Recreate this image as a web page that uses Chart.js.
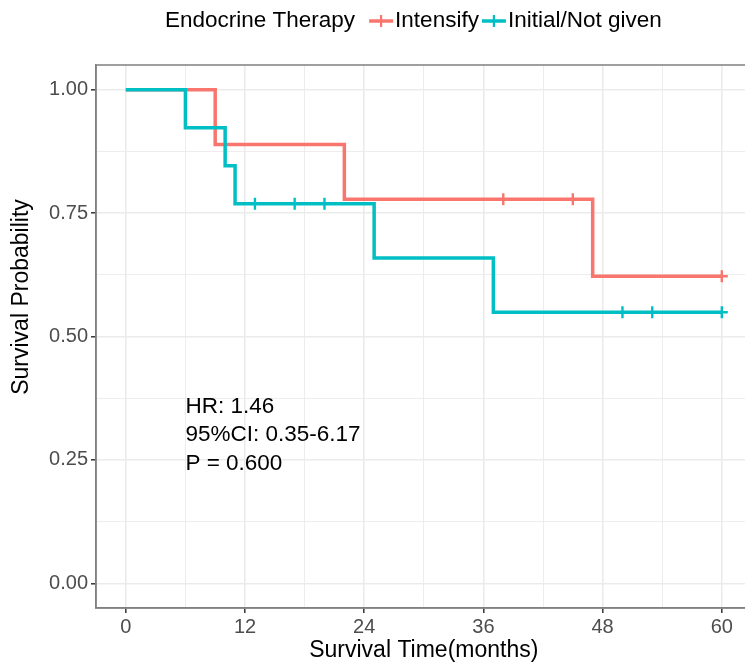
<!DOCTYPE html>
<html>
<head>
<meta charset="utf-8">
<script src="https://cdn.jsdelivr.net/npm/chart.js@4.4.1/dist/chart.umd.min.js"></script>
<style>
html, body { margin: 0; padding: 0; background: #ffffff; overflow: hidden; }
#wrap { position: relative; width: 760px; height: 664px; }
</style>
</head>
<body>
<div id="wrap"><canvas id="c" width="760" height="664"></canvas></div>
<script>
// ---- data ----
const intensifyTimes = [0, 9, 22, 47, 60];
const intensifySurv  = [1.0, 0.889, 0.778, 0.622, 0.622];
const intensifyCensorTimes = [38, 45, 60];
const intensifyCensorSurv  = [0.778, 0.778, 0.622];

const initialTimes = [0, 6, 10, 11, 25, 37, 60];
const initialSurv  = [1.0, 0.923, 0.846, 0.769, 0.659, 0.549, 0.549];
const initialCensorTimes = [13, 17, 20, 50, 53, 60];
const initialCensorSurv  = [0.769, 0.769, 0.769, 0.549, 0.549, 0.549];

const seriesNames = ['Intensify', 'Initial/Not given'];
const legendTitle = 'Endocrine Therapy';
const xTickValues = [0, 6, 12, 18, 24, 30, 36, 42, 48, 54, 60];
const xMajorTicks = [0, 12, 24, 36, 48, 60];
const yTickValues = [0, 0.125, 0.25, 0.375, 0.5, 0.625, 0.75, 0.875, 1.0];
const yMajorTicks = [0, 0.25, 0.5, 0.75, 1.0];
const annotationLines = ['HR: 1.46', '95%CI: 0.35-6.17', 'P = 0.600'];
const yTitle = 'Survival Probability';
const xTitle = 'Survival Time(months)';

const RED = '#F8766D';
const TEAL = '#00BFC4';
const FONT = '"Liberation Sans", Arial, Helvetica, sans-serif';

function pts(xs, ys) { return xs.map((x, i) => ({ x: x, y: ys[i] })); }
function isMajor(list, v) { return list.some(m => Math.abs(m - v) < 1e-6); }

const panelPlugin = {
  id: 'panel',
  afterDraw(chart) {
    const ctx = chart.ctx;
    const a = chart.chartArea;
    ctx.save();
    ctx.strokeStyle = '#808080';
    ctx.lineWidth = 1.5;
    ctx.strokeRect(a.left, a.top, a.right - a.left, a.bottom - a.top);
    // annotation text
    const xs = chart.scales.x, ys = chart.scales.y;
    ctx.fillStyle = '#000000';
    ctx.font = '22.5px ' + FONT;
    ctx.textAlign = 'left';
    ctx.textBaseline = 'middle';
    const ax = xs.getPixelForValue(6);
    const ay = [0.357, 0.300, 0.243];
    annotationLines.forEach((t, i) => ctx.fillText(t, ax, ys.getPixelForValue(ay[i])));
    // y axis title
    ctx.save();
    ctx.font = '23px ' + FONT;
    ctx.textAlign = 'center';
    ctx.translate(22, 297);
    ctx.rotate(-Math.PI / 2);
    ctx.fillText(yTitle, 0, 0);
    ctx.restore();
    // legend
    ctx.font = '22.5px ' + FONT;
    ctx.textAlign = 'left';
    ctx.fillStyle = '#000000';
    let x = 165;
    const cy = 21;
    ctx.fillText(legendTitle, x, cy);
    x += ctx.measureText(legendTitle).width + 14;
    const colors = [RED, TEAL];
    seriesNames.forEach((name, i) => {
      ctx.strokeStyle = colors[i];
      ctx.lineWidth = 3.5;
      ctx.beginPath();
      ctx.moveTo(x, cy); ctx.lineTo(x + 24, cy);
      ctx.stroke();
      ctx.lineWidth = 2.2;
      ctx.beginPath();
      ctx.moveTo(x + 12, cy - 6); ctx.lineTo(x + 12, cy + 6);
      ctx.stroke();
      x += 26;
      ctx.fillStyle = '#000000';
      ctx.fillText(name, x, cy);
      x += ctx.measureText(name).width + 3;
    });
    ctx.restore();
  }
};

new Chart(document.getElementById('c'), {
  type: 'scatter',
  data: {
    datasets: [
      { label: seriesNames[1], data: pts(initialTimes, initialSurv), showLine: true, stepped: true,
        borderColor: TEAL, borderWidth: 3.5, pointRadius: 0, order: 1 },
      { label: seriesNames[1] + ' censored', data: pts(initialCensorTimes, initialCensorSurv), showLine: false,
        pointStyle: 'cross', pointRadius: 6, borderColor: TEAL, borderWidth: 2.4, order: 0 },
      { label: seriesNames[0], data: pts(intensifyTimes, intensifySurv), showLine: true, stepped: true,
        borderColor: RED, borderWidth: 3.5, pointRadius: 0, order: 3 },
      { label: seriesNames[0] + ' censored', data: pts(intensifyCensorTimes, intensifyCensorSurv), showLine: false,
        pointStyle: 'cross', pointRadius: 6, borderColor: RED, borderWidth: 2.4, order: 2 }
    ]
  },
  options: {
    responsive: false,
    animation: false,
    layout: { padding: { top: 65, right: 8, left: 0, bottom: 0 } },
    plugins: { legend: { display: false }, tooltip: { enabled: false } },
    scales: {
      x: {
        type: 'linear', min: -3, max: 63,
        afterBuildTicks: s => { s.ticks = xTickValues.map(v => ({ value: v })); },
        afterFit: s => { s.height = 56; },
        ticks: {
          autoSkip: false, maxRotation: 0, padding: 2,
          color: '#4D4D4D', font: { family: FONT, size: 20 },
          callback: v => isMajor(xMajorTicks, v) ? String(v) : ''
        },
        grid: {
          color: '#EBEBEB',
          lineWidth: c => isMajor(xMajorTicks, c.tick.value) ? 1.6 : 0.9,
          tickLength: 5,
          tickColor: c => isMajor(xMajorTicks, c.tick.value) ? '#333333' : 'rgba(0,0,0,0)',
          tickWidth: 1.5
        },
        border: { display: true, color: '#808080', width: 1.5 },
        title: { display: true, text: xTitle, color: '#000000',
                 font: { family: FONT, size: 23 }, padding: { top: 0, bottom: 0 } }
      },
      y: {
        type: 'linear', min: -0.05, max: 1.05,
        afterBuildTicks: s => { s.ticks = yTickValues.map(v => ({ value: v })); },
        afterFit: s => { s.width = 96; },
        ticks: {
          autoSkip: false, padding: 3,
          color: '#4D4D4D', font: { family: FONT, size: 20 },
          callback: v => isMajor(yMajorTicks, v) ? v.toFixed(2) : ''
        },
        grid: {
          color: '#EBEBEB',
          lineWidth: c => isMajor(yMajorTicks, c.tick.value) ? 1.6 : 0.9,
          tickLength: 5,
          tickColor: c => isMajor(yMajorTicks, c.tick.value) ? '#333333' : 'rgba(0,0,0,0)',
          tickWidth: 1.5
        },
        border: { display: true, color: '#808080', width: 1.5 },
        title: { display: false }
      }
    }
  },
  plugins: [panelPlugin]
});
</script>
</body>
</html>
